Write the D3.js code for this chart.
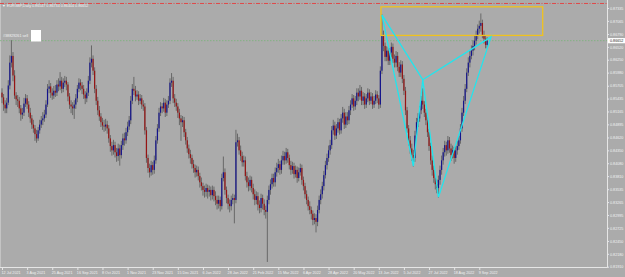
<!DOCTYPE html>
<html lang="en">
<head>
<meta charset="UTF-8">
<title>EURGBP Daily</title>
<style>
  html, body { margin: 0; padding: 0; background: #ababab; overflow: hidden; }
  svg { display: block; font-family: "Liberation Sans", Arial, sans-serif; }
</style>
</head>
<body>
<svg id="chart" width="625" height="277"></svg>
<script src="https://d3js.org/d3.v7.min.js"></script>
<script>
// EURGBP daily candles, 12 Jul 2021 -> mid Sep 2022
var firstOpen = 0.8556;

var closes = [
  0.8546,0.8531,0.8523,0.8535,0.8571,0.8619,0.8633,0.8592,0.8550,0.8542,
  0.8539,0.8523,0.8510,0.8514,0.8533,0.8544,0.8531,0.8514,0.8502,0.8489,
  0.8481,0.8469,0.8460,0.8477,0.8489,0.8498,0.8502,0.8510,0.8531,0.8564,
  0.8569,0.8556,0.8550,0.8560,0.8556,0.8573,0.8569,0.8581,0.8564,0.8577,
  0.8581,0.8573,0.8548,0.8531,0.8527,0.8523,0.8531,0.8544,0.8564,0.8577,
  0.8571,0.8564,0.8552,0.8544,0.8556,0.8581,0.8619,0.8627,0.8602,0.8564,
  0.8539,0.8519,0.8506,0.8494,0.8487,0.8485,0.8489,0.8481,0.8460,0.8444,
  0.8435,0.8446,0.8431,0.8423,0.8439,0.8425,0.8446,0.8460,0.8456,0.8473,
  0.8485,0.8498,0.8539,0.8564,0.8560,0.8548,0.8552,0.8539,0.8544,0.8531,
  0.8527,0.8477,0.8419,0.8398,0.8389,0.8404,0.8394,0.8414,0.8456,0.8481,
  0.8514,0.8527,0.8523,0.8535,0.8514,0.8531,0.8539,0.8577,0.8581,0.8544,
  0.8535,0.8527,0.8514,0.8502,0.8494,0.8498,0.8473,0.8456,0.8439,0.8427,
  0.8419,0.8406,0.8398,0.8389,0.8394,0.8381,0.8368,0.8360,0.8352,0.8348,
  0.8356,0.8348,0.8352,0.8341,0.8352,0.8339,0.8331,0.8323,0.8331,0.8318,
  0.8377,0.8389,0.8352,0.8335,0.8323,0.8318,0.8331,0.8335,0.8331,0.8452,
  0.8456,0.8435,0.8423,0.8410,0.8414,0.8381,0.8368,0.8360,0.8373,0.8356,
  0.8343,0.8331,0.8339,0.8321,0.8314,0.8335,0.8323,0.8310,0.8306,0.8331,
  0.8352,0.8364,0.8377,0.8368,0.8389,0.8398,0.8406,0.8394,0.8414,0.8423,
  0.8414,0.8431,0.8419,0.8404,0.8394,0.8402,0.8385,0.8394,0.8377,0.8389,
  0.8398,0.8373,0.8360,0.8343,0.8331,0.8318,0.8310,0.8302,0.8289,0.8293,
  0.8285,0.8310,0.8331,0.8343,0.8360,0.8383,0.8404,0.8419,0.8435,0.8446,
  0.8477,0.8487,0.8466,0.8481,0.8494,0.8477,0.8502,0.8514,0.8489,0.8506,
  0.8498,0.8519,0.8531,0.8544,0.8527,0.8539,0.8556,0.8548,0.8560,0.8539,
  0.8548,0.8531,0.8544,0.8556,0.8539,0.8548,0.8531,0.8539,0.8552,0.8544,
  0.8531,0.8602,0.8677,0.8654,0.8631,0.8644,0.8623,0.8640,0.8652,0.8627,
  0.8619,0.8633,0.8610,0.8598,0.8615,0.8585,0.8560,0.8519,0.8481,0.8456,
  0.8439,0.8425,0.8419,0.8466,0.8494,0.8502,0.8519,0.8539,0.8531,0.8514,
  0.8498,0.8473,0.8444,0.8414,0.8394,0.8377,0.8364,0.8356,0.8373,0.8394,
  0.8414,0.8431,0.8446,0.8435,0.8456,0.8439,0.8425,0.8435,0.8419,0.8435,
  0.8444,0.8456,0.8481,0.8514,0.8539,0.8564,0.8598,0.8619,0.8633,0.8644,
  0.8654,0.8665,0.8675,0.8690,0.8696,0.8702,0.8677,0.8669,0.8656,0.8665
];

var highs = [
  0.8564,0.8552,0.8539,0.8544,0.8581,0.8633,0.8665,0.8640,0.8602,0.8556,
  0.8550,0.8546,0.8529,0.8523,0.8544,0.8552,0.8550,0.8537,0.8523,0.8508,
  0.8498,0.8487,0.8477,0.8483,0.8498,0.8506,0.8514,0.8519,0.8539,0.8573,
  0.8581,0.8575,0.8564,0.8569,0.8571,0.8581,0.8585,0.8598,0.8588,0.8585,
  0.8590,0.8588,0.8577,0.8554,0.8539,0.8535,0.8539,0.8552,0.8571,0.8585,
  0.8583,0.8577,0.8571,0.8558,0.8564,0.8590,0.8629,0.8654,0.8633,0.8608,
  0.8571,0.8546,0.8527,0.8512,0.8502,0.8498,0.8500,0.8496,0.8487,0.8466,
  0.8452,0.8456,0.8452,0.8439,0.8448,0.8446,0.8454,0.8469,0.8471,0.8481,
  0.8494,0.8506,0.8548,0.8573,0.8588,0.8569,0.8560,0.8558,0.8552,0.8550,
  0.8539,0.8533,0.8483,0.8425,0.8406,0.8412,0.8410,0.8423,0.8464,0.8489,
  0.8523,0.8535,0.8533,0.8544,0.8542,0.8539,0.8548,0.8585,0.8596,0.8588,
  0.8552,0.8542,0.8533,0.8521,0.8508,0.8506,0.8504,0.8479,0.8462,0.8446,
  0.8435,0.8425,0.8414,0.8404,0.8402,0.8400,0.8387,0.8377,0.8366,0.8360,
  0.8364,0.8362,0.8360,0.8358,0.8360,0.8358,0.8348,0.8339,0.8339,0.8337,
  0.8385,0.8421,0.8396,0.8358,0.8341,0.8331,0.8339,0.8343,0.8341,0.8477,
  0.8469,0.8462,0.8444,0.8431,0.8423,0.8421,0.8389,0.8377,0.8381,0.8379,
  0.8364,0.8352,0.8348,0.8346,0.8329,0.8343,0.8341,0.8331,0.8318,0.8339,
  0.8360,0.8373,0.8385,0.8385,0.8398,0.8408,0.8416,0.8412,0.8423,0.8433,
  0.8431,0.8439,0.8437,0.8425,0.8412,0.8410,0.8408,0.8402,0.8400,0.8398,
  0.8406,0.8404,0.8379,0.8366,0.8350,0.8337,0.8327,0.8316,0.8308,0.8302,
  0.8300,0.8318,0.8339,0.8352,0.8368,0.8391,0.8412,0.8427,0.8444,0.8456,
  0.8485,0.8498,0.8494,0.8489,0.8502,0.8500,0.8510,0.8525,0.8521,0.8514,
  0.8514,0.8527,0.8539,0.8552,0.8550,0.8548,0.8564,0.8564,0.8571,0.8567,
  0.8556,0.8554,0.8552,0.8564,0.8562,0.8556,0.8554,0.8548,0.8560,0.8558,
  0.8550,0.8610,0.8719,0.8685,0.8660,0.8652,0.8650,0.8648,0.8660,0.8658,
  0.8635,0.8642,0.8640,0.8619,0.8623,0.8621,0.8592,0.8567,0.8525,0.8487,
  0.8464,0.8448,0.8435,0.8475,0.8502,0.8512,0.8527,0.8548,0.8564,0.8537,
  0.8521,0.8504,0.8479,0.8450,0.8423,0.8402,0.8383,0.8373,0.8381,0.8402,
  0.8423,0.8439,0.8454,0.8452,0.8464,0.8462,0.8448,0.8444,0.8441,0.8444,
  0.8454,0.8464,0.8489,0.8523,0.8548,0.8573,0.8606,0.8629,0.8644,0.8654,
  0.8665,0.8675,0.8685,0.8698,0.8706,0.8721,0.8708,0.8685,0.8675,0.8671
];

var lows = [
  0.8535,0.8519,0.8514,0.8514,0.8531,0.8564,0.8610,0.8581,0.8544,0.8531,
  0.8527,0.8514,0.8498,0.8502,0.8508,0.8527,0.8523,0.8506,0.8494,0.8481,
  0.8473,0.8456,0.8452,0.8456,0.8471,0.8483,0.8489,0.8496,0.8504,0.8527,
  0.8556,0.8546,0.8542,0.8544,0.8548,0.8550,0.8560,0.8562,0.8556,0.8558,
  0.8569,0.8562,0.8539,0.8523,0.8514,0.8510,0.8502,0.8523,0.8537,0.8558,
  0.8562,0.8554,0.8544,0.8533,0.8537,0.8550,0.8575,0.8610,0.8594,0.8556,
  0.8531,0.8510,0.8498,0.8485,0.8479,0.8475,0.8477,0.8471,0.8452,0.8433,
  0.8425,0.8427,0.8421,0.8412,0.8414,0.8404,0.8419,0.8437,0.8446,0.8450,
  0.8466,0.8479,0.8491,0.8533,0.8552,0.8539,0.8542,0.8531,0.8533,0.8523,
  0.8519,0.8469,0.8410,0.8389,0.8379,0.8383,0.8385,0.8387,0.8408,0.8450,
  0.8475,0.8508,0.8514,0.8517,0.8506,0.8508,0.8525,0.8533,0.8569,0.8535,
  0.8527,0.8519,0.8504,0.8489,0.8456,0.8485,0.8464,0.8448,0.8431,0.8419,
  0.8408,0.8398,0.8389,0.8379,0.8381,0.8373,0.8358,0.8352,0.8341,0.8337,
  0.8339,0.8335,0.8339,0.8331,0.8333,0.8329,0.8321,0.8312,0.8314,0.8308,
  0.8312,0.8371,0.8343,0.8325,0.8312,0.8306,0.8310,0.8323,0.8283,0.8325,
  0.8444,0.8427,0.8414,0.8402,0.8402,0.8373,0.8358,0.8350,0.8352,0.8348,
  0.8333,0.8321,0.8323,0.8310,0.8304,0.8306,0.8312,0.8300,0.8293,0.8202,
  0.8323,0.8343,0.8356,0.8360,0.8360,0.8381,0.8389,0.8385,0.8387,0.8406,
  0.8406,0.8408,0.8410,0.8396,0.8385,0.8387,0.8377,0.8379,0.8368,0.8371,
  0.8383,0.8364,0.8352,0.8335,0.8323,0.8310,0.8302,0.8291,0.8279,0.8281,
  0.8264,0.8277,0.8304,0.8323,0.8335,0.8352,0.8377,0.8396,0.8412,0.8427,
  0.8439,0.8469,0.8458,0.8460,0.8473,0.8469,0.8471,0.8494,0.8481,0.8483,
  0.8489,0.8491,0.8510,0.8525,0.8519,0.8521,0.8531,0.8539,0.8542,0.8531,
  0.8531,0.8523,0.8525,0.8537,0.8531,0.8533,0.8523,0.8525,0.8533,0.8535,
  0.8523,0.8525,0.8596,0.8644,0.8623,0.8623,0.8615,0.8615,0.8631,0.8619,
  0.8610,0.8610,0.8602,0.8590,0.8590,0.8577,0.8552,0.8510,0.8473,0.8446,
  0.8429,0.8414,0.8402,0.8412,0.8460,0.8485,0.8496,0.8512,0.8523,0.8506,
  0.8489,0.8464,0.8435,0.8406,0.8383,0.8368,0.8354,0.8346,0.8337,0.8364,
  0.8385,0.8406,0.8423,0.8425,0.8429,0.8431,0.8414,0.8419,0.8408,0.8412,
  0.8427,0.8437,0.8450,0.8475,0.8508,0.8533,0.8558,0.8592,0.8610,0.8627,
  0.8635,0.8646,0.8658,0.8669,0.8681,0.8685,0.8671,0.8660,0.8650,0.8650
];

// daily bar opens at the previous bar's close
var opens = [firstOpen].concat(closes.slice(0, -1));

var priceTicks = [0.81910, 0.82180, 0.82450, 0.82725, 0.82995, 0.83265, 0.83535,
  0.83810, 0.84080, 0.84350, 0.84620, 0.84895, 0.85165, 0.85435, 0.85705,
  0.85980, 0.86250, 0.86520, 0.86790, 0.87065, 0.87335];

var dateLabels = ["12 Jul 2021", "3 Aug 2021", "25 Aug 2021", "16 Sep 2021", "8 Oct 2021",
  "1 Nov 2021", "23 Nov 2021", "15 Dec 2021", "6 Jan 2022", "28 Jan 2022", "21 Feb 2022",
  "15 Mar 2022", "6 Apr 2022", "28 Apr 2022", "20 May 2022", "13 Jun 2022", "5 Jul 2022",
  "27 Jul 2022", "18 Aug 2022", "9 Sep 2022"];
var barsPerLabel = 16;

// harmonic pattern X, A, B, C, D (bar index, price)
var patternBars = [242, 262, 268, 278, 311.5];
var patternPrices = [0.8719, 0.8402, 0.8583, 0.8337, 0.8673];

// yellow zone
var zoneBars = [241.4, 344.4];
var zonePrices = [0.8736, 0.8676];

var stopLevel = 0.8743;
var headerText = "EURGBP,Daily  0.86547 0.86734 0.86404 0.86652";
var orderText = "#38829261 sell";

var svg = d3.select("#chart"),
    W = 625, H = 277,
    axisX = 607, axisY = 267;

var x = d3.scaleLinear().domain([0, 309]).range([2, 2 + 1.57 * 309]);
var y = d3.scaleLinear().domain([0.81910, 0.87335]).range([266.7, 8]);

svg.append("rect").attr("width", W).attr("height", H).attr("fill", "#ababab");

// frame lines
svg.append("line").attr("x1", 0.5).attr("x2", 0.5).attr("y1", 0).attr("y2", axisY)
    .attr("stroke", "#c4c4c4").attr("stroke-width", 1);
svg.append("line").attr("x1", axisX + 0.5).attr("x2", axisX + 0.5).attr("y1", 0).attr("y2", axisY + 0.5)
    .attr("stroke", "#e6e6e6").attr("stroke-width", 1);
svg.append("line").attr("x1", 0).attr("x2", axisX + 0.5).attr("y1", axisY + 0.5).attr("y2", axisY + 0.5)
    .attr("stroke", "#e6e6e6").attr("stroke-width", 1);

// red stop line and green order line
svg.append("line").attr("x1", 0).attr("x2", axisX).attr("y1", y(stopLevel)).attr("y2", y(stopLevel))
    .attr("stroke", "#e04848").attr("stroke-width", 1).attr("stroke-dasharray", "4,1.5,1,1.5");
var last = closes[closes.length - 1];
svg.append("line").attr("x1", 0).attr("x2", axisX).attr("y1", y(last)).attr("y2", y(last))
    .attr("stroke", "#78b478").attr("stroke-width", 0.8).attr("stroke-dasharray", "1.5,1.5");

// candles
var bars = d3.range(closes.length).map(function (i) {
    return {i: i, o: opens[i], h: highs[i], l: lows[i], c: closes[i]};
});

var candle = svg.append("g").selectAll("g").data(bars).enter().append("g");
candle.append("line")
    .attr("x1", function (d) { return x(d.i); })
    .attr("x2", function (d) { return x(d.i); })
    .attr("y1", function (d) { return y(d.h) - 0.5; })
    .attr("y2", function (d) { return y(d.l) + 0.5; })
    .attr("stroke", "#686868").attr("stroke-width", 1);
candle.append("rect")
    .attr("x", function (d) { return x(d.i) - 0.6; })
    .attr("width", 1.2)
    .attr("y", function (d) { return y(Math.max(d.o, d.c)); })
    .attr("height", function (d) { return Math.max(0.6, Math.abs(y(d.o) - y(d.c))); })
    .attr("fill", function (d) { return d.c >= d.o ? "#14148c" : "#961414"; });

// zone rectangle
svg.append("rect")
    .attr("x", x(zoneBars[0])).attr("y", y(zonePrices[0]))
    .attr("width", x(zoneBars[1]) - x(zoneBars[0]))
    .attr("height", y(zonePrices[1]) - y(zonePrices[0]))
    .attr("fill", "none").attr("stroke", "#f0c21e").attr("stroke-width", 1.3);

// pattern triangles X-A-B and B-C-D
var pts = patternBars.map(function (b, k) { return [x(b), y(patternPrices[k])]; });
var tri = d3.line();
[[0, 1, 2, 0], [2, 3, 4, 2]].forEach(function (idx) {
    svg.append("path")
        .attr("d", tri(idx.map(function (k) { return pts[k]; })))
        .attr("fill", "none").attr("stroke", "#20e6ee").attr("stroke-width", 1.3)
        .attr("stroke-linejoin", "miter");
});

// price axis
var yAxis = svg.append("g").attr("transform", "translate(" + axisX + ",0)")
    .call(d3.axisRight(y).tickValues(priceTicks).tickFormat(d3.format(".5f")).tickSize(2).tickSizeOuter(0));
yAxis.select(".domain").remove();
yAxis.selectAll("line").attr("stroke", "#e6e6e6");
yAxis.selectAll("text").attr("x", 3).attr("fill", "#f2f2f2").style("font-size", "3.7px")
    .attr("font-family", "Liberation Sans, Arial, sans-serif");

// current price tag
svg.append("rect").attr("x", axisX + 1).attr("y", y(last) - 2.6).attr("width", 17).attr("height", 5.2)
    .attr("fill", "#ffffff");
svg.append("text").attr("x", axisX + 3).attr("y", y(last)).attr("dy", "0.34em")
    .attr("fill", "#222").style("font-size", "3.7px").text(d3.format(".5f")(0.86652));

// date axis
var labelBars = dateLabels.map(function (d, k) { return k * barsPerLabel; });
var xAxis = svg.append("g").attr("transform", "translate(0," + (axisY + 0.5) + ")")
    .call(d3.axisBottom(x).tickValues(labelBars)
        .tickFormat(function (d) { return dateLabels[d / barsPerLabel]; })
        .tickSize(2.5).tickSizeOuter(0));
xAxis.select(".domain").remove();
xAxis.selectAll("line").attr("stroke", "#e6e6e6");
xAxis.selectAll("text").attr("text-anchor", "start").attr("x", -1).attr("y", 4).attr("dy", "0.71em")
    .attr("fill", "#f2f2f2").style("font-size", "3.7px");

// header and order label
svg.append("text").attr("x", 2).attr("y", 6.5).attr("fill", "#f4f4f4").style("font-size", "3.7px")
    .text("\u25BC " + headerText);
svg.append("text").attr("x", 3).attr("y", 37).attr("fill", "#f4f4f4").style("font-size", "3.7px")
    .text(orderText);
svg.append("rect").attr("x", 31).attr("y", 30).attr("width", 10).attr("height", 11.5).attr("fill", "#ffffff");
</script>
</body>
</html>
